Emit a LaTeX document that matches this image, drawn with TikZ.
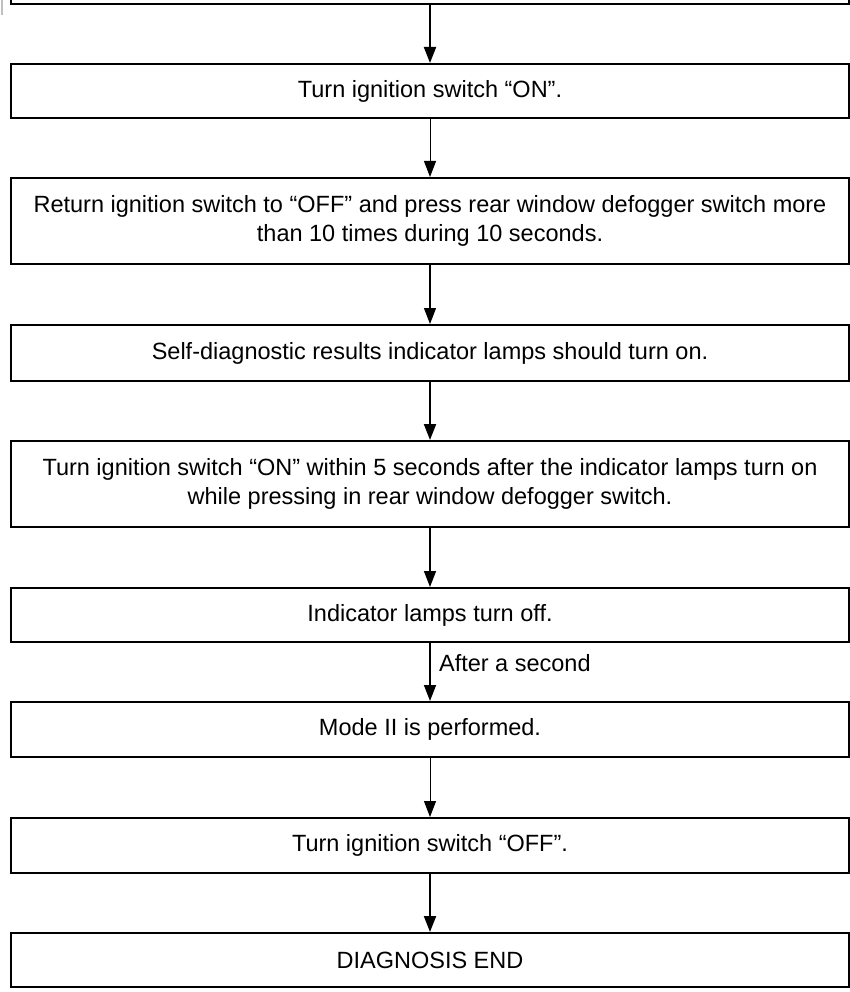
\documentclass[tikz,border=0pt]{standalone}
\usepackage{fontspec}
\setmainfont{Liberation Sans}
\usetikzlibrary{arrows.meta}

\begin{document}
\begin{tikzpicture}[x=1pt,y=-1pt,
  stepbox/.style={draw=black,line width=2pt,minimum width=838pt,inner sep=0pt,align=center,
    font=\fontsize{23.5}{29}\selectfont},
  link/.style={line width=#1,-{Triangle[width=12pt,length=16pt]}},
  link/.default=1.5pt]
\useasboundingbox (0,0) rectangle (850,992);

\draw[gray!50,line width=2pt] (1.5,0) -- (1.5,15);

\node[stepbox,minimum height=88pt] (prev) at (430,-40) {};
\node[stepbox,minimum height=54pt] (ignon) at (430,91) {Turn ignition switch “ON”.};
\node[stepbox,minimum height=86pt] (press) at (430,221) {Return ignition switch to “OFF” and press rear window defogger switch more\\than 10 times during 10 seconds.};
\node[stepbox,minimum height=56pt] (lampson) at (430,353) {Self-diagnostic results indicator lamps should turn on.};
\node[stepbox,minimum height=86pt] (ignon2) at (430,484) {Turn ignition switch “ON” within 5 seconds after the indicator lamps turn on\\while pressing in rear window defogger switch.};
\node[stepbox,minimum height=54pt] (lampsoff) at (430,615) {Indicator lamps turn off.};
\node[stepbox,minimum height=55pt] (mode) at (430,729.5) {Mode II is performed.};
\node[stepbox,minimum height=55pt] (ignoff) at (430,845.5) {Turn ignition switch “OFF”.};
\node[stepbox,minimum height=54pt] (done) at (430,960) {DIAGNOSIS END};

\draw[link=2pt] (prev.south) -- (ignon.north);
\draw[link=1pt] (ignon.south) -- (press.north);
\draw[link=1.2pt] (press.south) -- (lampson.north);
\draw[link=2pt] (lampson.south) -- (ignon2.north);
\draw[link] (ignon2.south) -- (lampsoff.north);
\draw[link] (lampsoff.south) -- (mode.north)
  node[pos=0.35,right=5pt,font=\fontsize{23.5}{29}\selectfont] {After a second};
\draw[link=1pt] (mode.south) -- (ignoff.north);
\draw[link=2pt] (ignoff.south) -- (done.north);

\end{tikzpicture}
\end{document}
